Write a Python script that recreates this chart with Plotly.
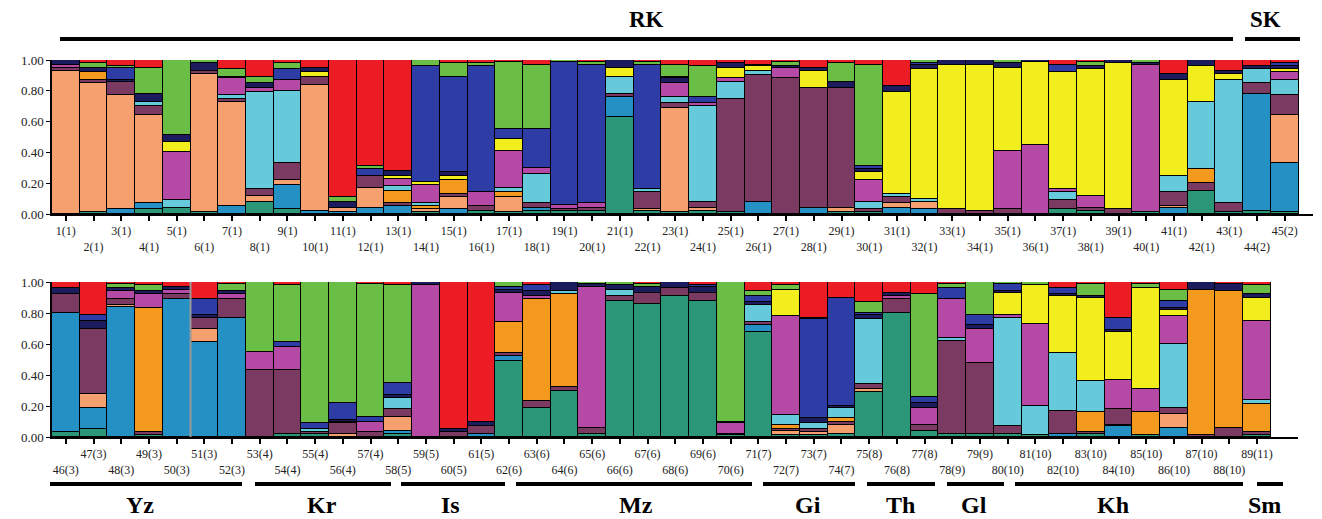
import plotly.graph_objects as go

# Individuals 1..89 (1-45 top panel, 46-89 bottom panel)
individuals = list(range(1, 90))
population = [1]*43 + [2]*2 + [3]*7 + [4]*5 + [5]*4 + [6]*9 + [7]*4 + [8]*3 + [9]*2 + [10]*9 + [11]*1

# Cluster membership proportions (Q), bottom -> top stacking order
teal_green = [0, .01, 0, .03, .04, .01, 0, .08, .03, 0,
              0, 0, 0, .01, 0, .02, .01, .02, .02, .02,
              .63, .02, .01, .02, .01, 0, 0, 0, .01, .01,
              0, 0, 0, 0, 0, 0, .03, .02, 0, .01,
              0, .15, .01, .02, .01,
              .03, .05, 0, .01, 0, 0, 0, 0, .02, .02,
              0, 0, .02, 0, 0, 0, .49, .19, .30, .02,
              .88, .86, .91, .88, .01, .68, .01, .01, .02, .29,
              .80, .04, .02, .02, .02, .01, 0, .02, 0, .01,
              0, 0, 0, .01]
teal_blue = [0, 0, .03, .04, 0, 0, .05, 0, .16, .02,
             .01, .04, .05, 0, .03, 0, 0, .02, 0, 0,
             .13, 0, 0, 0, 0, .08, 0, .04, 0, 0,
             .04, .03, 0, 0, 0, 0, 0, 0, 0, 0,
             .04, 0, 0, .76, .32,
             .77, .14, .84, 0, .89, .61, .77, 0, 0, 0,
             0, 0, .02, 0, 0, .02, .03, 0, 0, 0,
             0, 0, 0, 0, 0, .04, 0, 0, 0, 0,
             0, 0, 0, 0, 0, 0, .02, 0, .07, 0,
             .06, 0, 0, 0]
salmon = [.93, .84, .74, .57, 0, .90, .68, .04, .03, .82,
          .03, .13, 0, .02, .08, 0, .10, 0, 0, 0,
          0, .01, .68, .02, 0, 0, 0, 0, .03, 0,
          .03, .05, 0, 0, 0, 0, 0, 0, 0, 0,
          .01, 0, 0, 0, .31,
          0, .09, .01, 0, 0, .09, 0, 0, 0, 0,
          .02, 0, .09, 0, 0, 0, 0, 0, 0, 0,
          0, 0, 0, 0, 0, 0, .03, .02, .06, .02,
          0, 0, 0, 0, 0, 0, 0, 0, .01, 0,
          .09, 0, 0, 0]
plum = [.02, .02, .09, .06, 0, .02, .02, .04, .11, .05,
        0, .08, .02, 0, .02, .03, 0, .03, .01, .02,
        .02, .11, .03, .04, .74, .82, .88, .78, .78, .02,
        .04, 0, .03, .02, .03, 0, .06, .02, .03, 0,
        .09, .05, .06, .07, .13,
        .12, .42, .04, .02, .03, .07, .12, .43, .41, .01,
        .07, .03, .05, 0, .03, .05, .02, .04, .02, .04,
        .03, .07, .05, .05, .01, .02, .01, .02, .02, .03,
        .09, .04, .60, .46, .05, 0, .15, .01, .10, 0,
        .04, .01, .06, .02]
orange = [0, .05, 0, 0, 0, 0, 0, 0, 0, 0,
          0, 0, .08, .02, .09, 0, .03, 0, 0, 0,
          0, 0, 0, 0, 0, 0, 0, 0, 0, 0,
          0, 0, 0, 0, 0, 0, 0, 0, 0, 0,
          0, .09, 0, 0, 0,
          0, 0, 0, .80, 0, 0, 0, 0, 0, 0,
          0, 0, 0, 0, 0, 0, .20, .66, .60, 0,
          0, 0, 0, 0, 0, 0, .03, 0, .02, 0,
          0, 0, 0, 0, 0, 0, 0, .13, 0, .15,
          0, .94, .88, .18]
cyan = [0, 0, 0, .03, .05, 0, .02, .63, .47, 0,
        0, 0, .03, .02, 0, 0, .03, .19, 0, 0,
        .11, .02, .04, .62, .11, .03, 0, 0, 0, .05,
        .02, .02, 0, 0, 0, 0, .05, 0, 0, 0,
        .11, .44, .80, .09, .10,
        0, 0, 0, 0, 0, 0, 0, 0, 0, .02,
        .01, 0, .07, 0, 0, 0, 0, 0, .02, 0,
        .04, 0, 0, 0, 0, .11, .06, .04, .07, .42,
        0, 0, .02, 0, .70, .19, .37, .20, 0, 0,
        .41, 0, 0, .03]
magenta = [.02, 0, 0, 0, .31, 0, .11, .03, .07, 0,
           0, 0, .05, .12, 0, .09, .24, .04, .03, .03,
           0, 0, .09, .02, .02, 0, .07, 0, 0, .14,
           0, 0, 0, 0, .38, .45, .02, .08, 0, .96,
           0, 0, 0, 0, .05,
           0, 0, .05, .09, .03, 0, .03, .12, .15, 0,
           0, .07, 0, .98, 0, 0, .19, .02, 0, .91,
           0, 0, 0, 0, .07, 0, .64, 0, 0, 0,
           .02, .11, .25, .22, .02, .53, 0, 0, .19, .15,
           .18, 0, 0, .51]
yellow = [0, 0, 0, 0, .07, 0, 0, 0, 0, .03,
          0, 0, .02, .02, .03, 0, .08, 0, 0, 0,
          .06, 0, 0, 0, .07, .03, 0, .11, 0, .05,
          .66, .84, .94, .95, .54, .54, .76, .82, .95, 0,
          .62, .23, .04, 0, .02,
          0, 0, 0, 0, 0, 0, 0, 0, 0, 0,
          0, 0, 0, 0, 0, 0, 0, 0, 0, 0,
          0, 0, 0, 0, 0, 0, .17, 0, 0, 0,
          0, 0, 0, 0, .14, .25, .37, .54, .31, .65,
          .04, 0, 0, .15]
navy = [.03, .03, .01, .05, .04, .05, .01, .03, 0, .03,
        .04, 0, .03, 0, .02, 0, 0, 0, 0, 0,
        .05, 0, .03, 0, .03, .01, .01, .02, .04, .02,
        .04, .03, .03, .03, .03, .01, 0, .02, .02, .01,
        .04, .04, .02, .02, .02,
        .04, .05, .02, .02, .02, .02, .02, 0, 0, 0,
        .01, 0, .02, .02, .02, .03, .02, .03, .06, .02,
        .03, .04, .04, .04, .01, .02, 0, .03, .01, .03,
        .02, .03, 0, .02, .01, 0, .01, .01, .01, 0,
        .01, .05, .05, .02]
blue = [0, 0, .08, 0, 0, 0, 0, 0, .07, 0,
        0, .04, 0, .75, .62, .82, .06, .25, .93, .90,
        0, .81, .01, .04, 0, 0, 0, 0, 0, .02,
        0, .01, 0, 0, 0, 0, .05, 0, 0, 0,
        0, 0, 0, 0, .02,
        0, .04, 0, 0, 0, .10, 0, 0, .03, .04,
        .11, .03, .08, 0, 0, 0, .02, .04, 0, 0,
        0, 0, 0, .01, 0, .04, 0, .64, .70, .01,
        0, .04, .07, .07, .05, 0, .04, 0, .08, 0,
        .05, 0, 0, 0]
green = [0, .03, .01, .17, .49, .02, .05, .04, .04, 0,
         .03, .02, 0, .04, .09, .02, .44, .42, .01, .02,
         0, .02, .08, .20, 0, 0, .03, 0, .12, .66,
         0, .02, 0, 0, .02, 0, 0, .03, 0, .02,
         0, 0, 0, 0, 0,
         0, 0, .03, .04, 0, 0, .05, .45, .37, .91,
         .78, .86, .63, 0, 0, 0, .03, 0, 0, .01,
         .02, .02, 0, 0, .90, .03, .03, .01, 0, .07,
         0, .66, .03, .21, .01, .02, 0, .08, 0, .03,
         .07, 0, 0, .06]
red = [0, .02, .04, .05, 0, 0, .06, .11, .02, .05,
       .89, .69, .72, 0, .02, .02, .01, .03, 0, .01,
       0, .01, .03, .04, .02, .03, .01, .05, .02, .03,
       .17, 0, 0, 0, 0, 0, .03, .01, 0, 0,
       .09, 0, .07, .04, .02,
       .04, .21, .01, .02, .03, .11, .01, 0, .02, 0,
       0, .01, .02, 0, .95, .90, 0, .02, 0, 0,
       0, .01, 0, .02, 0, .06, .02, .23, .10, .13,
       .07, .08, .01, 0, 0, 0, .04, .01, .23, .01,
       .05, 0, .01, .02]

clusters = [
    ("Cluster 1", teal_green, "#2B9678"),
    ("Cluster 2", teal_blue, "#2490C3"),
    ("Cluster 3", salmon, "#F5A06E"),
    ("Cluster 4", plum, "#7B3A62"),
    ("Cluster 5", orange, "#F39A1E"),
    ("Cluster 6", cyan, "#66CADB"),
    ("Cluster 7", magenta, "#B54AA6"),
    ("Cluster 8", yellow, "#F2EE1E"),
    ("Cluster 9", navy, "#1B1B5E"),
    ("Cluster 10", blue, "#2E3CA6"),
    ("Cluster 11", green, "#6BBE45"),
    ("Cluster 12", red, "#EC1C24"),
]

top_groups = ["RK", "SK"]
bottom_groups = ["Yz", "Kr", "Is", "Mz", "Gi", "Th", "Gl", "Kh", "Sm"]

N_TOP = 45
labels = [f"{i}({p})" if i % 2 == 1 else f"<br>{i}({p})" for i, p in zip(individuals, population)]
top_x = list(range(1, N_TOP + 1))
bot_x = list(range(1, len(individuals) - N_TOP + 1))

fig = go.Figure()
for name, vals, col in clusters:
    fig.add_trace(go.Bar(x=top_x, y=vals[:N_TOP], name=name, marker=dict(color=col, line=dict(color="black", width=1)),
                         xaxis="x", yaxis="y", showlegend=False))
    fig.add_trace(go.Bar(x=bot_x, y=vals[N_TOP:], name=name, marker=dict(color=col, line=dict(color="black", width=1)),
                         xaxis="x2", yaxis="y2", showlegend=False))

W, H = 1322, 519
def px(x):
    return x / W
def py(y):
    return 1 - y / H

tickfont = dict(family="Liberation Serif", size=12, color="#222")
common_x = dict(showline=True, linecolor="black", linewidth=2, ticks="outside", ticklen=5, tickwidth=1.5,
                tickcolor="black", showgrid=False, zeroline=False, tickfont=tickfont, tickmode="array",
                tickangle=0, automargin=False)
common_y = dict(range=[0, 1], showline=True, linecolor="black", linewidth=1.5, ticks="outside", ticklen=4,
                tickcolor="black", showgrid=False, zeroline=False, tickfont=dict(family="Liberation Serif", size=13, color="#222"),
                automargin=False,
                tickvals=[0, .2, .4, .6, .8, 1.0], ticktext=["0.00", "0.20", "0.40", "0.60", "0.80", "1.00"])

fig.update_layout(
    width=W, height=H, margin=dict(l=0, r=0, t=0, b=0, autoexpand=False),
    paper_bgcolor="white", plot_bgcolor="white",
    barmode="stack", bargap=0,
    xaxis=dict(domain=[px(52), px(1313)], range=[0.5, 46.02], anchor="y",
               tickvals=top_x, ticktext=labels[:N_TOP], **common_x),
    yaxis=dict(domain=[py(214), py(60)], anchor="x", **common_y),
    xaxis2=dict(domain=[px(52), px(1298)], range=[0.5, 45.48], anchor="y2",
                tickvals=bot_x, ticktext=labels[N_TOP:], **common_x),
    yaxis2=dict(domain=[py(437), py(282)], anchor="x2", **common_y),
)

shapes = []
anns = []
label_font = dict(family="Liberation Serif", size=23, color="black")
# Top population lines
for name, (x0, x1) in zip(top_groups, [(60, 1233), (1245, 1300)]):
    shapes.append(dict(type="line", xref="paper", yref="paper", x0=px(x0), x1=px(x1), y0=py(39), y1=py(39),
                       line=dict(color="black", width=4)))
    anns.append(dict(text=f"<b>{name}</b>", xref="paper", yref="paper", x=px((x0 + x1) / 2 if name == "RK" else 1265),
                     y=py(19), showarrow=False, font=label_font, xanchor="center", yanchor="middle"))
bottom_spans = [(50, 242), (255, 391), (401, 505), (516, 752), (763, 855), (867, 935), (947, 1004), (1015, 1243), (1257, 1283)]
bottom_centers = [140, 322, 450, 636, 808, 900, 974, 1113, 1264]
for name, (x0, x1), cx in zip(bottom_groups, bottom_spans, bottom_centers):
    shapes.append(dict(type="line", xref="paper", yref="paper", x0=px(x0), x1=px(x1), y0=py(484), y1=py(484),
                       line=dict(color="black", width=4)))
    anns.append(dict(text=f"<b>{name}</b>", xref="paper", yref="paper", x=px(cx), y=py(505), showarrow=False,
                     font=dict(family="Liberation Serif", size=24, color="black"), xanchor="center", yanchor="middle"))
# separator between individuals 50 and 51
shapes.append(dict(type="line", xref="x2", yref="y2", x0=5.5, x1=5.5, y0=0, y1=1.03,
                   line=dict(color="#999", width=2)))

fig.update_layout(shapes=shapes, annotations=anns)
fig.write_html("out.html", config={"displayModeBar": False},
               post_script="document.body.style.margin='0px';document.body.style.overflow='hidden';")
